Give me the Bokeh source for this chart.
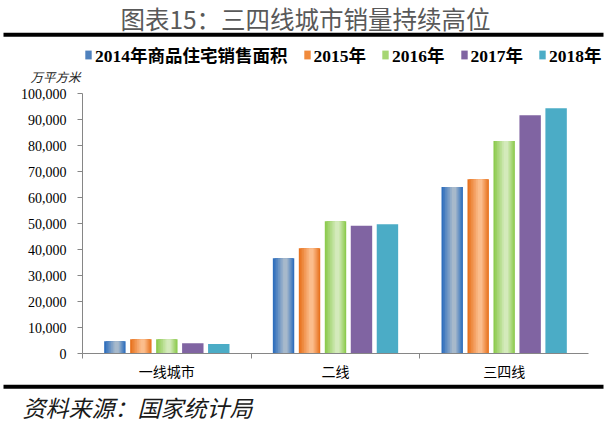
from bokeh.plotting import figure
from bokeh.models import (Range1d, FixedTicker, NumeralTickFormatter, Legend,
                          LegendItem, Label, ColumnDataSource)
from bokeh.transform import dodge
from bokeh.layouts import column
from bokeh.embed import file_html
from bokeh.resources import INLINE

# ---------------- data ----------------
title_text = "图表15：三四线城市销量持续高位"
unit_text = "万平方米"
source_text = "资料来源：国家统计局"
categories = ["一线城市", "二线", "三四线"]
series_labels = ["2014年商品住宅销售面积", "2015年", "2016年", "2017年", "2018年"]
sales_2014 = [4700, 36600, 64000]
sales_2015 = [5500, 40500, 67000]
sales_2016 = [5500, 50900, 81700]
sales_2017 = [3900, 49100, 91600]
sales_2018 = [3700, 49700, 94300]
y_ticks = [0, 10000, 20000, 30000, 40000, 50000, 60000, 70000, 80000, 90000, 100000]

# ---------------- styles ----------------
W = 608
CJK = "Noto Sans CJK SC"
SERIF = "'Liberation Serif', 'Noto Sans CJK SC'"
AXIS_GRAY = "#868686"
edge_colors = ["#2f6fbd", "#e8731f", "#8dcb4f", "#8064a2", "#4bacc6"]
center_colors = ["#a7b9cb", "#fbbd8c", "#d4eabb", None, None]
legend_colors = ["#4f81bd", "#f08a3c", "#a6d672", "#8064a2", "#4bacc6"]


def mix(c1, c2, t):
    a = [int(c1[i:i + 2], 16) for i in (1, 3, 5)]
    b = [int(c2[i:i + 2], 16) for i in (1, 3, 5)]
    return "#" + "".join("%02x" % round(a[i] + (b[i] - a[i]) * t) for i in range(3))


def blank_fig(h):
    f = figure(width=W, height=h, x_range=Range1d(0, W), y_range=Range1d(0, h),
               min_border=0, toolbar_location=None, output_backend="svg",
               x_axis_location=None, y_axis_location=None, outline_line_color=None)
    f.frame_align = False
    f.grid.visible = False
    return f


# ---------------- header (title, rule, legend, unit) ----------------
HH = 85
hdr = blank_fig(HH)
hdr.add_layout(Label(x=305, y=HH - 18, text=title_text, text_align="center",
                     text_baseline="middle", text_font=CJK, text_font_size="24.5px",
                     text_color="#595959"))
hdr.segment(x0=[3], y0=[HH - 34.3], x1=[603], y1=[HH - 34.3], line_width=4,
            line_color="black")

items = []
for j, lbl in enumerate(series_labels):
    # legend proxy: zero-size bar, only used for the legend swatch
    r = hdr.vbar(x=[0], top=[0], bottom=0, width=0, fill_color=legend_colors[j],
                 line_color=None)
    items.append(LegendItem(label=lbl, renderers=[r]))
legend = Legend(items=items, orientation="horizontal", location=(84, HH - 67),
                glyph_width=8, glyph_height=11, label_standoff=3, spacing=15,
                padding=0, margin=0, border_line_color=None,
                background_fill_alpha=0, label_text_font=SERIF,
                label_text_font_style="bold", label_text_font_size="17.5px",
                label_text_color="black", label_height=16)
hdr.add_layout(legend)
hdr.add_layout(Label(x=30, y=HH - 75.5, text=unit_text, text_baseline="middle",
                     text_font=CJK, text_font_size="12.5px", text_font_style="italic",
                     text_color="#222222"))

# ---------------- main chart ----------------
p = figure(width=W, height=298, x_range=Range1d(0, len(categories)),
           y_range=Range1d(0, 100000),
           min_border_left=82, min_border_right=20, min_border_top=8,
           min_border_bottom=30, toolbar_location=None, output_backend="svg",
           outline_line_color=None)
p.frame_align = False
p.xgrid.visible = False
p.ygrid.visible = False

bw = 0.127
stride = 0.154
all_series = [sales_2014, sales_2015, sales_2016, sales_2017, sales_2018]
for j, vals in enumerate(all_series):
    src = ColumnDataSource(dict(cat=[i + 0.5 for i in range(len(categories))], top=vals))
    off = (j - 2) * stride
    p.vbar(x=dodge("cat", off, range=p.x_range), top="top", bottom=0, width=bw,
           source=src, fill_color=edge_colors[j], line_color=None)
    cc = center_colors[j]
    if cc is not None:
        K = 7
        for k in range(1, K):
            t = k / (K - 1)
            f = 1 - t * 0.8
            p.vbar(x=dodge("cat", off + 0.08 * bw * t, range=p.x_range), top="top",
                   bottom=0, width=bw * f, source=src,
                   fill_color=mix(edge_colors[j], cc, t), line_color=None)

yax = p.yaxis[0]
yax.ticker = FixedTicker(ticks=y_ticks)
yax.formatter = NumeralTickFormatter(format="0,0")
yax.major_tick_out = 5
yax.major_tick_in = 0
yax.minor_tick_out = 0
yax.minor_tick_in = 0
yax.axis_line_color = AXIS_GRAY
yax.major_tick_line_color = AXIS_GRAY
yax.major_label_text_font = "Liberation Serif"
yax.major_label_text_font_size = "14px"
yax.major_label_text_color = "black"
yax.major_label_standoff = 11

xax = p.xaxis[0]
xax.ticker = FixedTicker(ticks=[i + 0.5 for i in range(len(categories))],
                         minor_ticks=[float(i) for i in range(len(categories))])
xax.major_label_overrides = {i + 0.5: c for i, c in enumerate(categories)}
xax.major_tick_out = 0
xax.major_tick_in = 0
xax.minor_tick_out = 5
xax.minor_tick_in = 0
xax.axis_line_color = AXIS_GRAY
xax.minor_tick_line_color = AXIS_GRAY
xax.major_label_text_font = SERIF
xax.major_label_text_font_size = "14px"
xax.major_label_text_color = "black"
xax.major_label_standoff = 6

# ---------------- footer ----------------
FH = 40
ftr = blank_fig(FH)
ftr.segment(x0=[3], y0=[FH - 3.3], x1=[603], y1=[FH - 3.3], line_width=4,
            line_color="black")
ftr.add_layout(Label(x=22, y=FH - 23.3, text=source_text, text_baseline="middle",
                     text_font=CJK, text_font_size="23px", text_font_style="italic",
                     text_color="#1a1a1a"))

layout = column(hdr, p, ftr, spacing=0)
open("out.html", "w").write(file_html(layout, INLINE))
